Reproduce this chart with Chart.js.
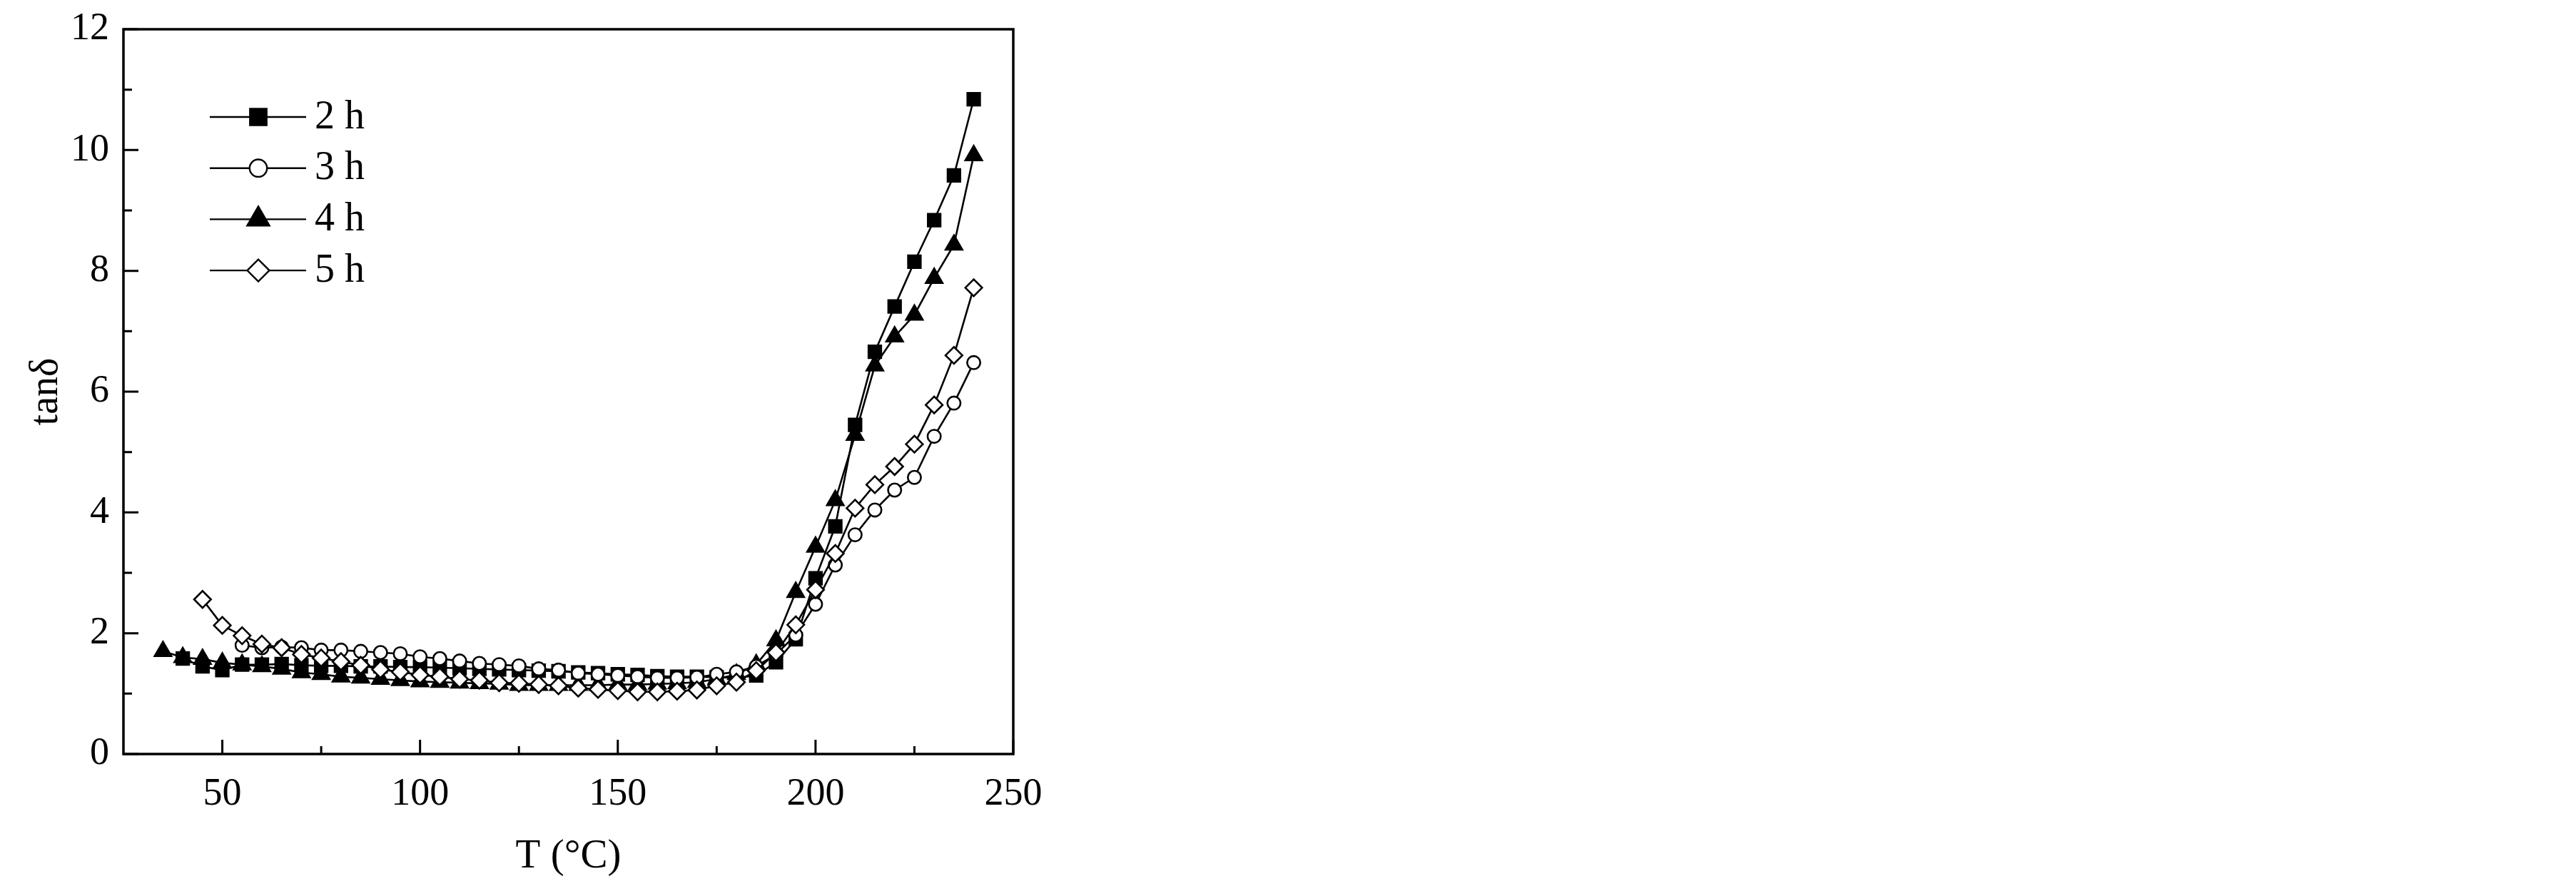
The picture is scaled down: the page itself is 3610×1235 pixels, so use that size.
<!DOCTYPE html>
<html>
<head>
<meta charset="utf-8">
<script src="https://cdn.jsdelivr.net/npm/chart.js@4.4.1/dist/chart.umd.min.js"></script>
<style>
  html, body { margin: 0; padding: 0; background: #ffffff; }
  #c { display: block; }
</style>
</head>
<body>
<canvas id="c" width="3610" height="1235"></canvas>
<script>
// ---------------- DATA ----------------
const seriesLabels = ['2 h', '3 h', '4 h', '5 h'];

const temps2h = [40,45,50,55,60,65,70,75,80,85,90,95,100,105,110,115,120,125,130,135,140,145,150,155,160,165,170,175,180,185,190,195,200,205,210,215,220,225,230,235,240];
const tan2h   = [1.58,1.45,1.39,1.48,1.48,1.49,1.47,1.46,1.46,1.45,1.45,1.44,1.44,1.43,1.42,1.41,1.40,1.39,1.38,1.37,1.35,1.34,1.32,1.31,1.29,1.28,1.28,1.27,1.26,1.30,1.52,1.90,2.91,3.77,5.45,6.66,7.41,8.15,8.84,9.58,10.84];

const temps3h = [55,60,65,70,75,80,85,90,95,100,105,110,115,120,125,130,135,140,145,150,155,160,165,170,175,180,185,190,195,200,205,210,215,220,225,230,235,240];
const tan3h   = [1.80,1.76,1.77,1.76,1.72,1.72,1.70,1.68,1.66,1.61,1.58,1.54,1.50,1.48,1.46,1.41,1.39,1.34,1.32,1.30,1.28,1.26,1.26,1.27,1.32,1.36,1.45,1.65,1.97,2.48,3.13,3.63,4.04,4.37,4.58,5.26,5.81,6.48];

const temps4h = [35,40,45,50,55,60,65,70,75,80,85,90,95,100,105,110,115,120,125,130,135,140,145,150,155,160,165,170,175,180,185,190,195,200,205,210,215,220,225,230,235,240];
const tan4h   = [1.70,1.60,1.57,1.51,1.48,1.45,1.41,1.35,1.32,1.28,1.26,1.24,1.22,1.20,1.19,1.18,1.17,1.16,1.14,1.14,1.14,1.14,1.14,1.15,1.15,1.16,1.17,1.19,1.24,1.32,1.48,1.88,2.68,3.43,4.20,5.28,6.43,6.91,7.27,7.88,8.43,9.91];

const temps5h = [45,50,55,60,65,70,75,80,85,90,95,100,105,110,115,120,125,130,135,140,145,150,155,160,165,170,175,180,185,190,195,200,205,210,215,220,225,230,235,240];
const tan5h   = [2.56,2.13,1.96,1.82,1.76,1.65,1.59,1.53,1.47,1.40,1.36,1.31,1.28,1.24,1.22,1.18,1.17,1.15,1.13,1.09,1.07,1.05,1.03,1.03,1.04,1.06,1.13,1.19,1.38,1.68,2.14,2.72,3.32,4.07,4.46,4.76,5.13,5.78,6.60,7.72];

const xMajorTicks = [50, 100, 150, 200, 250];
const xMinorTicks = [75, 125, 175, 225];
const yMajorTicks = [0, 2, 4, 6, 8, 10, 12];
const yMinorTicks = [1, 3, 5, 7, 9, 11];

const xTitle = 'T (°C)';
const yTitle = 'tanδ';

// ---------------- BUILD ----------------
function pairs(xs, ys) { return xs.map((t, i) => ({ x: t, y: ys[i] })); }

const FONT = '"Liberation Serif", "Times New Roman", serif';

const styles = [
  { pointStyle: 'rect',     fill: '#000000', r: 12.5, lr: 16.5 },
  { pointStyle: 'circle',   fill: '#ffffff', r: 9.2,  lr: 12.2 },
  { pointStyle: 'triangle', fill: '#000000', r: 13.5, lr: 18.0 },
  { pointStyle: 'rectRot',  fill: '#ffffff', r: 11.8, lr: 15.5 }
];
const drawOrder = [2, 1, 3, 0]; // 5h on top, then 3h, 2h, 4h bottom

const allData = [pairs(temps2h, tan2h), pairs(temps3h, tan3h), pairs(temps4h, tan4h), pairs(temps5h, tan5h)];

const datasets = allData.map((d, i) => ({
  label: seriesLabels[i],
  data: d,
  order: drawOrder[i],
  borderColor: '#000000',
  borderWidth: 2.6,
  backgroundColor: styles[i].fill,
  pointStyle: styles[i].pointStyle,
  pointRadius: styles[i].r,
  pointHoverRadius: styles[i].r,
  pointBackgroundColor: styles[i].fill,
  pointBorderColor: '#000000',
  pointBorderWidth: 2.6,
  tension: 0,
  fill: false
}));

function fallbackPoint(ctx, style, r, x, y) {
  ctx.beginPath();
  if (style === 'rect') { const s = Math.SQRT1_2 * r; ctx.rect(x - s, y - s, 2 * s, 2 * s); }
  else if (style === 'circle') { ctx.arc(x, y, r, 0, Math.PI * 2); }
  else if (style === 'triangle') {
    let a = 0;
    ctx.moveTo(x + Math.sin(a) * r, y - Math.cos(a) * r); a += 2 * Math.PI / 3;
    ctx.lineTo(x + Math.sin(a) * r, y - Math.cos(a) * r); a += 2 * Math.PI / 3;
    ctx.lineTo(x + Math.sin(a) * r, y - Math.cos(a) * r);
  } else { ctx.moveTo(x - r, y); ctx.lineTo(x, y - r); ctx.lineTo(x + r, y); ctx.lineTo(x, y + r); }
  ctx.closePath(); ctx.fill(); ctx.stroke();
}

const framePlugin = {
  id: 'frameTicks',
  afterDatasetsDraw(chart) {
    const { ctx, chartArea: a, scales: { x, y } } = chart;
    ctx.save();
    ctx.strokeStyle = '#000000';
    ctx.lineWidth = 3.5;
    ctx.strokeRect(a.left, a.top, a.right - a.left, a.bottom - a.top);
    ctx.lineWidth = 3;
    ctx.beginPath();
    xMajorTicks.forEach(v => { const p = x.getPixelForValue(v); ctx.moveTo(p, a.bottom); ctx.lineTo(p, a.bottom - 20); });
    xMinorTicks.forEach(v => { const p = x.getPixelForValue(v); ctx.moveTo(p, a.bottom); ctx.lineTo(p, a.bottom - 11); });
    yMajorTicks.forEach(v => { const p = y.getPixelForValue(v); ctx.moveTo(a.left, p); ctx.lineTo(a.left + 21, p); });
    yMinorTicks.forEach(v => { const p = y.getPixelForValue(v); ctx.moveTo(a.left, p); ctx.lineTo(a.left + 12, p); });
    ctx.stroke();
    ctx.restore();
  }
};

const legendPlugin = {
  id: 'lineMarkerLegend',
  afterDraw(chart) {
    const { ctx, chartArea: a } = chart;
    ctx.save();
    chart.data.datasets.forEach((ds, i) => {
      const yy = a.top + 123 + i * 71.7;
      ctx.strokeStyle = '#000000';
      ctx.lineWidth = 2.4;
      ctx.beginPath();
      ctx.moveTo(a.left + 121, yy);
      ctx.lineTo(a.left + 256, yy);
      ctx.stroke();
      ctx.fillStyle = styles[i].fill;
      ctx.strokeStyle = '#000000';
      ctx.lineWidth = 2.4;
      const opts = { pointStyle: styles[i].pointStyle, rotation: 0, radius: styles[i].lr, borderWidth: 2.4 };
      if (Chart.helpers && Chart.helpers.drawPoint) {
        Chart.helpers.drawPoint(ctx, opts, a.left + 189, yy);
      } else {
        fallbackPoint(ctx, styles[i].pointStyle, styles[i].lr, a.left + 189, yy);
      }
      ctx.fillStyle = '#000000';
      ctx.font = '56px ' + FONT;
      ctx.textBaseline = 'middle';
      ctx.textAlign = 'left';
      ctx.fillText(ds.label, a.left + 268, yy + 1);
    });
    ctx.restore();
  }
};

const canvas = document.getElementById('c');
new Chart(canvas, {
  type: 'line',
  data: { datasets },
  plugins: [framePlugin, legendPlugin],
  options: {
    responsive: false,
    devicePixelRatio: 1,
    animation: false,
    events: [],
    layout: { padding: { left: 0, top: 41, right: 2190, bottom: 0 } },
    plugins: { legend: { display: false }, tooltip: { enabled: false }, title: { display: false } },
    scales: {
      x: {
        type: 'linear',
        position: 'bottom',
        min: 25, max: 250,
        grid: { display: false, drawTicks: false },
        border: { display: false },
        afterBuildTicks: s => { s.ticks = xMajorTicks.map(v => ({ value: v })); },
        afterFit: s => { s.height = 178; s.paddingLeft = 0; s.paddingRight = 0; },
        ticks: { color: '#000000', font: { family: FONT, size: 54 }, padding: 24, maxRotation: 0, autoSkip: false },
        title: { display: true, text: xTitle, color: '#000000', font: { family: FONT, size: 57 }, padding: { top: 0, bottom: 0 } }
      },
      y: {
        type: 'linear',
        position: 'left',
        min: 0, max: 12,
        grid: { display: false, drawTicks: false },
        border: { display: false },
        afterBuildTicks: s => { s.ticks = yMajorTicks.map(v => ({ value: v })); },
        afterFit: s => { s.width = 173; s.paddingTop = 0; s.paddingBottom = 0; },
        ticks: { color: '#000000', font: { family: FONT, size: 54 }, padding: 20, autoSkip: false },
        title: { display: true, text: yTitle, color: '#000000', font: { family: FONT, size: 56 }, padding: { top: 32, bottom: 0 } }
      }
    }
  }
});
</script>
</body>
</html>
